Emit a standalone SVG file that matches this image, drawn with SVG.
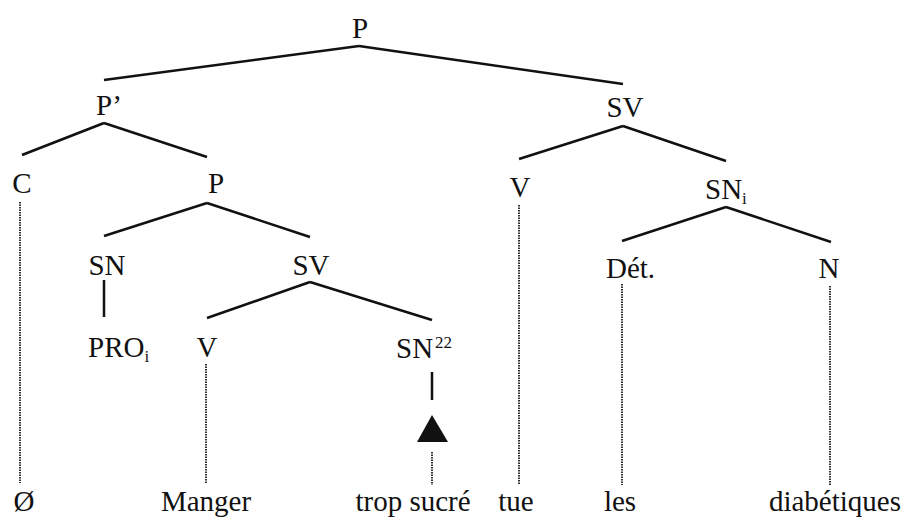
<svg xmlns="http://www.w3.org/2000/svg" width="905" height="527" viewBox="0 0 905 527">
<style>
text{font-family:"Liberation Serif","Times New Roman",serif;font-size:29px;fill:#111}
.m{text-anchor:middle}
.e{text-anchor:end}
.sub{font-size:17px}
.edge{stroke:#111;stroke-width:2.5;fill:none;stroke-linecap:butt}
.dot{stroke:#1a1a1a;stroke-width:1.8;stroke-dasharray:1.5 1;fill:none}
</style>
<rect width="905" height="527" fill="#fff"/>
<g id="connectors">
<line class="edge" x1="359" y1="46" x2="104" y2="80"/>
<line class="edge" x1="359" y1="46" x2="623" y2="84"/>
<line class="edge" x1="104" y1="123" x2="22" y2="155"/>
<line class="edge" x1="104" y1="123" x2="207" y2="157"/>
<line class="edge" x1="207" y1="203" x2="104" y2="236"/>
<line class="edge" x1="207" y1="203" x2="310" y2="237"/>
<line class="edge" x1="104" y1="280" x2="104" y2="317"/>
<line class="edge" x1="310" y1="282" x2="207" y2="318"/>
<line class="edge" x1="310" y1="282" x2="432" y2="320"/>
<line class="edge" x1="432" y1="372" x2="432" y2="400"/>
<line class="edge" x1="623" y1="126" x2="519" y2="159"/>
<line class="edge" x1="623" y1="126" x2="726" y2="161"/>
<line class="edge" x1="726" y1="207" x2="622" y2="241"/>
<line class="edge" x1="726" y1="207" x2="831" y2="242"/>
<line class="dot" x1="20" y1="202" x2="20" y2="483"/>
<line class="dot" x1="206" y1="364" x2="206" y2="483"/>
<line class="dot" x1="432" y1="452" x2="432" y2="485"/>
<line class="dot" x1="519" y1="205" x2="519" y2="484"/>
<line class="dot" x1="622" y1="284" x2="622" y2="485"/>
<line class="dot" x1="830" y1="286" x2="830" y2="485"/>
</g>
<g id="n-P-top"><text class="m" x="360" y="38">P</text></g>
<g id="n-Pprime"><text x="96" y="115">P’</text></g>
<g id="n-C"><text class="m" x="22" y="193">C</text></g>
<g id="n-P-mid"><text class="m" x="216" y="193">P</text></g>
<g id="n-SN"><text class="m" x="107" y="275">SN</text></g>
<g id="n-SV-mid"><text class="m" x="311" y="275">SV</text></g>
<g id="n-PRO"><text x="88" y="357">PRO<tspan class="sub" dy="5">i</tspan></text></g>
<g id="n-V-mid"><text class="m" x="207" y="357">V</text></g>
<g id="n-SN22"><text x="396" y="358">SN<tspan class="sub" dx="2" dy="-10">22</tspan></text></g>
<g id="n-triangle"><polygon points="432,415 417,442 448,442" fill="#111"/></g>
<g id="n-SV-right"><text class="m" x="625" y="117">SV</text></g>
<g id="n-V-right"><text class="m" x="520" y="197">V</text></g>
<g id="n-SNi"><text x="705" y="199">SN<tspan class="sub" dy="5">i</tspan></text></g>
<g id="n-Det"><text x="606" y="278">Dét.</text></g>
<g id="n-N"><text class="m" x="829" y="278">N</text></g>
<g id="w-empty"><text class="m" x="24" y="511">Ø</text></g>
<g id="w-manger"><text class="m" x="206" y="511">Manger</text></g>
<g id="w-trop"><text class="m" x="413" y="511">trop sucré</text></g>
<g id="w-tue"><text class="m" x="516" y="511">tue</text></g>
<g id="w-les"><text class="m" x="620" y="511">les</text></g>
<g id="w-diab"><text class="e" x="901" y="511">diabétiques</text></g>
</svg>
